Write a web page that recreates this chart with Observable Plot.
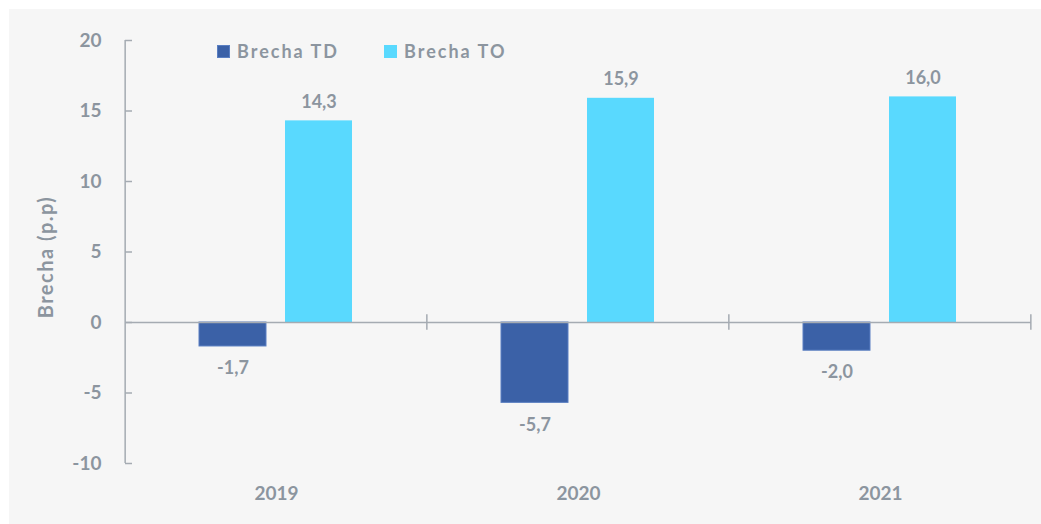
<!DOCTYPE html>
<html><head><meta charset="utf-8">
<script src="https://cdn.jsdelivr.net/npm/d3@7"></script>
<script src="https://cdn.jsdelivr.net/npm/@observablehq/plot@0.6"></script>
<style>
body{margin:0;background:#fff;font-family:Lato,"Open Sans",sans-serif}
#wrap{position:absolute;left:9px;top:9px;width:1032px;height:515px;background:#f6f6f6;overflow:hidden}
#wrap svg{position:absolute;left:0;top:0}
.item{position:absolute;top:31px;display:flex;align-items:center;font-weight:bold;font-size:18px;letter-spacing:2px;color:#8c959f;white-space:nowrap}
.sw{width:13px;height:13px;margin-right:7px;box-sizing:border-box}
</style></head>
<body><div id="wrap"></div>
<script>
const years = ["2019", "2020", "2021"];
const series = ["Brecha TD", "Brecha TO"];
const brechaTD = [-1.7, -5.7, -2.0];
const brechaTO = [14.3, 15.9, 16.0];
const yTicks = [-10, -5, 0, 5, 10, 15, 20];
const colors = ["#3b61a7", "#59d9fe"];
const yLabel = "Brecha (p.p)";

const data = years.flatMap((y, i) => [
  {year: y, serie: series[0], value: brechaTD[i]},
  {year: y, serie: series[1], value: brechaTO[i]}
]);

const W = 1032, H = 515, ML = 115, MR = 9, MT = 31, MB = 61;
const facetW = (W - ML - MR) / years.length;
const padIn = 0.218, padOut = 0.849;
const step = facetW / (series.length - padIn + 2 * padOut);
const bw = step * (1 - padIn);
const leftDx = -(padOut * step + bw / 2);
const rightDx = facetW - (padOut * step + step + bw / 2);
const fmt = d => d.toFixed(1).replace(".", ",");
const axisColor = "#a5abb2";
const textColor = "#8c959f";

const chart = Plot.plot({
  width: W, height: H,
  marginLeft: ML, marginRight: MR, marginTop: MT, marginBottom: MB,
  style: {background: "transparent", fontFamily: "Lato, 'Open Sans', sans-serif", color: textColor, overflow: "visible"},
  fx: {domain: years, padding: 0, label: null},
  x: {domain: series, paddingInner: padIn, paddingOuter: padOut, axis: null},
  y: {domain: [-10, 20]},
  color: {domain: series, range: colors},
  marks: [
    Plot.axisFx({anchor: "bottom", tickSize: 0, tickPadding: 23, fontSize: 19, fontWeight: "bold", label: null}),
    Plot.axisY({ticks: yTicks, tickSize: 0, tickPadding: 24, fontSize: 19, fontWeight: "bold",
      tickFormat: d => String(d), label: null}),
    Plot.axisY({ticks: yTicks, tickSize: 7, dx: 7, tickFormat: () => "", label: null, stroke: axisColor, strokeWidth: 1.5}),
    Plot.text([yLabel], {fx: () => years[0], text: d => d, frameAnchor: "left", textAnchor: "middle", rotate: -90,
      dx: -79, dy: 5, fontSize: 20, fontWeight: "bold", fill: textColor}),
    Plot.ruleX([years[0]], {fx: d => d, x: () => series[0], y1: -10, y2: 20, dx: leftDx, stroke: axisColor, strokeWidth: 1.5}),
    Plot.barY(data, {fx: "year", x: "serie", y: "value", fill: "serie"}),
    Plot.barY(data.filter(d => d.serie === series[0]), {fx: "year", x: "serie", y: "value", fill: "none", stroke: "#5a7fc2", strokeWidth: 1}),
    Plot.ruleY([0], {stroke: axisColor, strokeWidth: 1.5}),
    Plot.ruleX(years, {fx: d => d, x: () => series[1], y1: -0.55, y2: 0.55, dx: rightDx, stroke: axisColor, strokeWidth: 1.5}),
    Plot.text(data.filter(d => d.value >= 0), {fx: "year", x: "serie", y: "value", text: d => fmt(d.value), dy: -19, fontSize: 18, fontWeight: "bold", fill: textColor}),
    Plot.text(data.filter(d => d.value < 0), {fx: "year", x: "serie", y: "value", text: d => fmt(d.value), dy: 22, fontSize: 18, fontWeight: "bold", fill: textColor})
  ]
});
const wrap = document.getElementById("wrap");
wrap.appendChild(chart);
Array.from(chart.querySelectorAll("text"))
  .filter(n => n.textContent === yLabel)
  .forEach(n => n.style.letterSpacing = "1.5px");

const legendLeft = [208, 375];
series.forEach((s, i) => {
  const it = document.createElement("div");
  it.className = "item";
  it.style.left = legendLeft[i] + "px";
  const sw = document.createElement("div");
  sw.className = "sw";
  sw.style.background = colors[i];
  if (i === 0) sw.style.border = "1px solid #5a7fc2";
  const tx = document.createElement("span");
  tx.textContent = s;
  it.appendChild(sw); it.appendChild(tx);
  wrap.appendChild(it);
});
</script>
</body></html>
